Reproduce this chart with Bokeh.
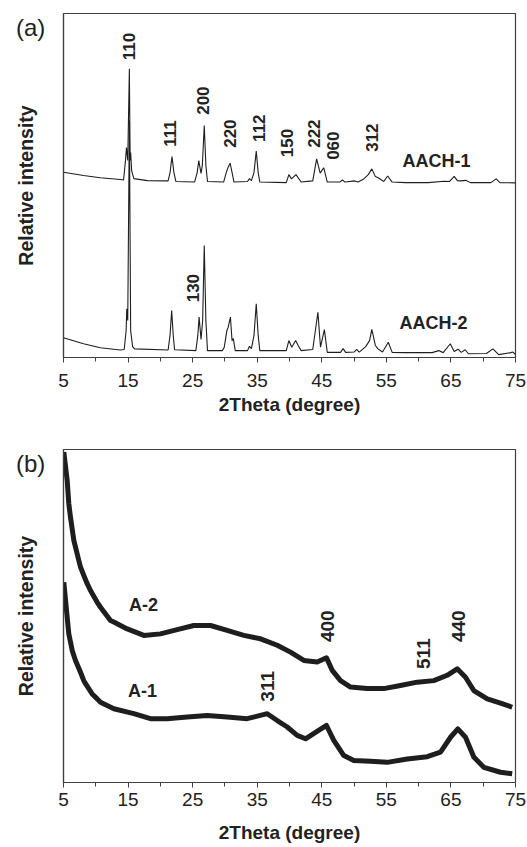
import math
from bokeh.plotting import figure
from bokeh.models import Range1d, FixedTicker, Label, Div
from bokeh.layouts import column
from bokeh.embed import file_html
from bokeh.resources import INLINE

# ---------------- Panel (a): AACH XRD patterns (relative intensity, a.u.) -----------
theta_aach1 = [5.0, 8.1, 10.7, 13.8, 14.3, 14.6, 14.75, 14.95, 15.2, 15.32, 15.4, 15.55, 15.9,
               18.0, 21.2, 21.5, 21.8, 22.1, 22.4, 25.3, 25.7, 25.95, 26.3, 26.5, 26.8, 27.05,
               27.3, 29.8, 30.2, 30.5, 30.8, 31.1, 31.4, 33.5, 33.8, 34.1, 34.5, 34.85, 35.15,
               35.4, 39.5, 39.9, 40.3, 41.0, 41.8, 43.6, 44.2, 44.75, 45.3, 45.85, 47.8, 48.2,
               48.6, 50.1, 50.6, 51.5, 52.2, 52.75, 53.3, 53.8, 54.6, 55.2, 55.9, 58.0, 61.5,
               63.9, 64.8, 65.5, 66.0, 66.5, 67.3, 68.0, 71.2, 72.0, 72.6, 75.0]
int_aach1 = [6.46, 6.35, 6.27, 6.21, 6.19, 6.87, 7.32, 6.87, 10.07, 6.87, 7.15, 6.52, 6.24,
             6.17, 6.16, 6.45, 7.01, 6.45, 6.14, 6.12, 6.45, 6.87, 6.42, 6.70, 8.09, 6.70,
             6.14, 6.12, 6.45, 6.64, 6.78, 6.46, 6.12, 6.14, 6.24, 6.17, 6.45, 7.20, 6.45,
             6.12, 6.10, 6.38, 6.23, 6.38, 6.12, 6.16, 6.93, 6.43, 6.62, 6.12, 6.12, 6.19,
             6.12, 6.16, 6.12, 6.23, 6.38, 6.58, 6.31, 6.26, 6.14, 6.33, 6.12, 6.10, 6.10,
             6.15, 6.14, 6.32, 6.17, 6.16, 6.18, 6.10, 6.10, 6.23, 6.10, 6.09]

theta_aach2 = [5.0, 8.1, 10.7, 13.8, 14.4, 14.7, 14.8, 14.95, 15.2, 15.4, 15.7, 16.0, 21.2,
               21.5, 21.75, 22.0, 22.2, 25.5, 25.8, 26.0, 26.3, 26.55, 26.8, 27.05, 27.3, 29.6,
               29.9, 30.3, 30.5, 30.85, 31.1, 31.3, 31.6, 33.5, 33.8, 34.1, 34.5, 34.85, 35.15,
               35.4, 39.5, 39.9, 40.35, 40.95, 41.35, 41.8, 43.6, 44.4, 44.8, 45.4, 45.85, 47.9,
               48.3, 48.7, 50.0, 50.4, 50.8, 51.8, 52.4, 52.75, 53.3, 53.7, 54.4, 55.3, 55.9,
               58.0, 62.1, 63.1, 63.8, 64.9, 65.5, 66.1, 66.6, 67.2, 67.7, 70.5, 71.5, 72.4,
               74.3, 74.6, 75.0]
int_aach2 = [0.69, 0.48, 0.34, 0.26, 0.28, 0.94, 1.70, 1.29, 8.27, 0.94, 0.38, 0.30, 0.26,
             0.77, 1.64, 0.77, 0.27, 0.24, 0.77, 1.41, 0.63, 1.29, 3.91, 1.29, 0.24, 0.24,
             0.36, 0.94, 1.05, 1.41, 0.59, 0.66, 0.24, 0.24, 0.39, 0.31, 0.77, 1.87, 0.77,
             0.24, 0.24, 0.59, 0.36, 0.59, 0.42, 0.24, 0.28, 1.58, 0.36, 0.97, 0.18, 0.18,
             0.31, 0.18, 0.19, 0.28, 0.19, 0.38, 0.59, 0.98, 0.42, 0.30, 0.19, 0.53, 0.18,
             0.17, 0.17, 0.24, 0.17, 0.48, 0.21, 0.29, 0.18, 0.27, 0.13, 0.14, 0.30, 0.10,
             0.17, 0.19, 0.10]

# ---------------- Panel (b): A-1 / A-2 XRD patterns -----------------------------------
theta_a2 = [5.05, 5.57, 5.82, 6.08, 6.6, 6.86, 7.37, 7.63, 8.14, 8.67, 9.18, 10.22, 10.73,
            12.28, 12.79, 14.87, 17.44, 20.02, 22.61, 25.18, 27.77, 30.35, 32.92, 35.51,
            38.1, 40.15, 42.22, 44.29, 45.73, 46.62, 47.9, 49.45, 52.03, 54.6, 57.19, 59.78,
            62.35, 64.42, 65.97, 67.26, 68.54, 70.62, 72.68, 74.49]
int_a2 = [8.69, 7.95, 7.34, 6.98, 6.37, 6.19, 5.84, 5.67, 5.45, 5.23, 5.05, 4.74, 4.61,
          4.26, 4.22, 4.04, 3.87, 3.91, 4.02, 4.13, 4.13, 4.00, 3.87, 3.78,
          3.61, 3.43, 3.21, 3.17, 3.28, 2.95, 2.68, 2.51, 2.47, 2.47, 2.55, 2.64,
          2.68, 2.82, 2.99, 2.77, 2.42, 2.20, 2.09, 1.98]

theta_a1 = [5.05, 5.42, 5.82, 6.35, 6.86, 7.63, 8.14, 8.41, 9.44, 10.22, 10.73, 12.79, 15.89,
            18.47, 21.06, 24.16, 27.26, 30.35, 33.45, 36.55, 38.1, 39.65, 41.19, 42.48, 44.03,
            45.73, 46.86, 48.41, 49.96, 52.55, 55.13, 58.23, 61.33, 63.39, 64.94, 66.07,
            67.26, 68.54, 70.09, 72.68, 74.49]
int_a1 = [5.27, 4.61, 3.91, 3.47, 3.21, 2.90, 2.68, 2.60, 2.33, 2.20, 2.11, 1.94, 1.81,
          1.68, 1.68, 1.72, 1.76, 1.72, 1.68, 1.81, 1.63, 1.46, 1.24, 1.15, 1.32,
          1.50, 1.11, 0.71, 0.58, 0.56, 0.53, 0.62, 0.68, 0.80, 1.19, 1.41,
          1.19, 0.67, 0.40, 0.27, 0.23]

x_ticks = [5, 15, 25, 35, 45, 55, 65, 75]
x_minor = [10, 20, 30, 40, 50, 60, 70]

# annotation texts and their anchor points (theta, intensity)
labels_a = [("110", 15.22, 10.85), ("111", 21.57, 7.81), ("200", 26.68, 8.96),
            ("220", 30.86, 7.81), ("112", 35.2, 8.0), ("150", 39.69, 7.48),
            ("222", 43.87, 7.81), ("060", 46.66, 7.39), ("312", 52.7, 7.67),
            ("130", 25.13, 2.42)]
labels_b = [("311", 36.59, 2.53), ("400", 45.89, 4.11), ("511", 60.75, 3.39),
            ("440", 66.17, 4.11)]

FONT = "Liberation Sans"
INK = "#1e1e1e"
AX = "#404040"
TXT = "#222222"


def make_fig(height, btop, bbottom, ymax, tick_std, title_std):
    p = figure(width=527, height=height, x_range=Range1d(5, 75), y_range=Range1d(0, ymax),
               output_backend="svg", toolbar_location=None,
               min_border_left=63, min_border_right=12, min_border_top=btop,
               min_border_bottom=bbottom)
    p.grid.visible = False
    p.outline_line_color = AX
    p.outline_line_width = 1.2
    p.background_fill_color = "white"
    p.border_fill_color = "white"

    xa = p.xaxis[0]
    xa.ticker = FixedTicker(ticks=x_ticks, minor_ticks=x_minor)
    xa.axis_label = "2Theta (degree)"
    xa.axis_label_text_font = FONT
    xa.axis_label_text_font_style = "bold"
    xa.axis_label_text_font_size = "19px"
    xa.axis_label_text_color = TXT
    xa.axis_label_standoff = title_std
    xa.major_label_text_font = FONT
    xa.major_label_text_font_size = "19px"
    xa.major_label_text_color = TXT
    xa.major_label_standoff = tick_std
    xa.major_tick_out = 5
    xa.major_tick_in = 0
    xa.minor_tick_out = 4
    xa.minor_tick_in = 0
    xa.axis_line_color = AX
    xa.major_tick_line_color = AX
    xa.minor_tick_line_color = AX
    xa.axis_line_width = 1.2

    ya = p.yaxis[0]
    ya.ticker = FixedTicker(ticks=[], minor_ticks=[])
    ya.axis_label = "Relative intensity"
    ya.axis_label_text_font = FONT
    ya.axis_label_text_font_style = "bold"
    ya.axis_label_text_font_size = "19.5px"
    ya.axis_label_text_color = TXT
    ya.axis_label_standoff = 27
    ya.axis_line_color = AX
    ya.axis_line_width = 1.2
    return p


# ---- panel (a)
pa = make_fig(430, 13, 73, 12.0, 11, 4)
pa.line(theta_aach1, int_aach1, line_color=INK, line_width=1.1)
pa.line(theta_aach2, int_aach2, line_color=INK, line_width=1.1)
for t, x, y in labels_a:
    pa.add_layout(Label(x=x, y=y, text=t, angle=math.pi / 2, text_align="center",
                        text_baseline="middle", text_font=FONT, text_font_style="bold",
                        text_font_size="17px", text_color=TXT))
pa.add_layout(Label(x=62.77, y=6.87, text="AACH-1", text_align="center", text_baseline="middle",
                    text_font=FONT, text_font_style="bold", text_font_size="18px",
                    text_color=TXT))
pa.add_layout(Label(x=62.3, y=1.22, text="AACH-2", text_align="center", text_baseline="middle",
                    text_font=FONT, text_font_style="bold", text_font_size="18px",
                    text_color=TXT))

# ---- panel (b)
pb = make_fig(417, 19, 65, 8.76, 5, 13)
pb.line(theta_a2, int_a2, line_color=INK, line_width=5, line_join="round")
pb.line(theta_a1, int_a1, line_color=INK, line_width=5, line_join="round")
for t, x, y in labels_b:
    pb.add_layout(Label(x=x, y=y, text=t, angle=math.pi / 2, text_align="center",
                        text_baseline="middle", text_font=FONT, text_font_style="bold",
                        text_font_size="19px", text_color=TXT))
pb.add_layout(Label(x=17.39, y=4.66, text="A-2", text_align="center", text_baseline="middle",
                    text_font=FONT, text_font_style="bold", text_font_size="18px",
                    text_color=TXT))
pb.add_layout(Label(x=17.23, y=2.42, text="A-1", text_align="center", text_baseline="middle",
                    text_font=FONT, text_font_style="bold", text_font_size="18px",
                    text_color=TXT))

# panel tags, placed in the left margins over the figures
tag_style = {"position": "absolute", "font-family": "Liberation Sans", "font-size": "24px",
             "line-height": "1", "color": TXT}
tag_a = Div(text="(a)", width=40, height=26, styles=dict(tag_style, left="11px", top="11px"))
tag_b = Div(text="(b)", width=40, height=26, styles=dict(tag_style, left="11px", top="447px"))

layout = column(pa, pb, tag_a, tag_b, spacing=0)
open("out.html", "w").write(file_html(layout, INLINE))
